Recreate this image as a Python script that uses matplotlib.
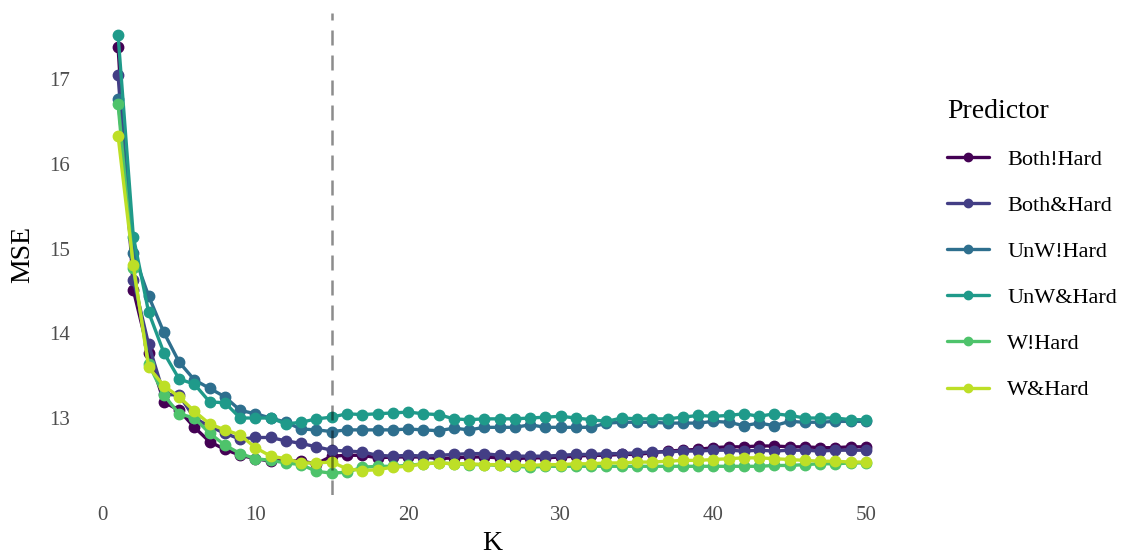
import numpy as np
import matplotlib
matplotlib.use("Agg")
import matplotlib.pyplot as plt

plt.rcParams['font.family'] = ['Liberation Serif', 'DejaVu Serif']

K = list(range(1, 51))
series_names = ["Both!Hard", "Both&Hard", "UnW!Hard", "UnW&Hard", "W!Hard", "W&Hard"]

both_not_hard = [17.38, 14.51, 13.77, 13.19, 13.09, 12.89, 12.72, 12.63, 12.56, 12.52,
                 12.49, 12.50, 12.49, 12.46, 12.55, 12.56, 12.56, 12.53, 12.54, 12.54,
                 12.54, 12.52, 12.53, 12.54, 12.54, 12.53, 12.52, 12.53, 12.53, 12.54,
                 12.55, 12.56, 12.56, 12.57, 12.57, 12.59, 12.61, 12.62, 12.63, 12.65,
                 12.66, 12.66, 12.67, 12.67, 12.66, 12.66, 12.65, 12.65, 12.66, 12.66]
both_and_hard = [17.05, 14.63, 13.87, 13.28, 13.27, 13.00, 12.90, 12.82, 12.75, 12.77,
                 12.77, 12.73, 12.70, 12.66, 12.62, 12.61, 12.60, 12.56, 12.55, 12.56,
                 12.55, 12.56, 12.57, 12.58, 12.58, 12.56, 12.55, 12.55, 12.55, 12.56,
                 12.57, 12.57, 12.58, 12.58, 12.59, 12.60, 12.60, 12.61, 12.61, 12.62,
                 12.62, 12.61, 12.62, 12.61, 12.62, 12.62, 12.61, 12.62, 12.62, 12.62]
unw_not_hard = [16.76, 14.95, 14.44, 14.01, 13.66, 13.45, 13.35, 13.25, 13.09, 13.05,
                13.00, 12.95, 12.87, 12.86, 12.84, 12.86, 12.86, 12.86, 12.86, 12.87,
                12.86, 12.85, 12.88, 12.86, 12.89, 12.89, 12.89, 12.92, 12.89, 12.89,
                12.89, 12.89, 12.94, 12.95, 12.95, 12.95, 12.94, 12.94, 12.94, 12.96,
                12.95, 12.91, 12.94, 12.91, 12.96, 12.95, 12.95, 12.96, 12.96, 12.96]
unw_and_hard = [17.52, 15.14, 14.25, 13.77, 13.46, 13.40, 13.19, 13.18, 13.00, 13.00,
                13.00, 12.93, 12.95, 12.99, 13.01, 13.05, 13.04, 13.05, 13.06, 13.07,
                13.05, 13.04, 12.99, 12.98, 12.99, 12.99, 12.99, 13.00, 13.01, 13.02,
                13.00, 12.98, 12.96, 13.00, 12.99, 12.99, 12.99, 13.01, 13.03, 13.02,
                13.03, 13.05, 13.02, 13.05, 13.03, 13.00, 13.00, 13.00, 12.98, 12.98]
w_not_hard = [16.70, 14.77, 13.64, 13.27, 13.05, 13.00, 12.82, 12.68, 12.58, 12.52,
              12.50, 12.47, 12.45, 12.37, 12.35, 12.36, 12.42, 12.43, 12.43, 12.44,
              12.46, 12.47, 12.46, 12.45, 12.45, 12.44, 12.43, 12.42, 12.43, 12.43,
              12.43, 12.43, 12.43, 12.43, 12.43, 12.43, 12.43, 12.43, 12.43, 12.43,
              12.43, 12.43, 12.43, 12.44, 12.44, 12.45, 12.46, 12.46, 12.47, 12.47]
w_and_hard = [16.33, 14.80, 13.60, 13.38, 13.25, 13.08, 12.93, 12.86, 12.80, 12.65,
              12.55, 12.52, 12.47, 12.47, 12.48, 12.40, 12.38, 12.39, 12.42, 12.43,
              12.46, 12.47, 12.46, 12.46, 12.45, 12.45, 12.44, 12.44, 12.45, 12.45,
              12.46, 12.46, 12.47, 12.47, 12.48, 12.48, 12.49, 12.50, 12.50, 12.51,
              12.52, 12.53, 12.53, 12.52, 12.51, 12.50, 12.49, 12.49, 12.48, 12.48]

series = [both_not_hard, both_and_hard, unw_not_hard, unw_and_hard, w_not_hard, w_and_hard]
chosen_k = 15
x_ticks = [0, 10, 20, 30, 40, 50]
y_ticks = [13, 14, 15, 16, 17]

colors = [plt.cm.viridis(v) for v in np.linspace(0, 0.9, 6)]

fig = plt.figure(figsize=(11.25, 5.54), dpi=100)
ax = fig.add_axes([0.0717, 0.1065, 0.7313, 0.870])

for name, vals, c in zip(series_names, series, colors):
    ax.plot(K, vals, color=c, lw=2.4, marker='o', ms=7.5, label=name,
            solid_capstyle='round')

ax.axvline(chosen_k, color='black', alpha=0.45, lw=1.8, linestyle=(0, (6, 4)), zorder=10)

ax.margins(x=0.05, y=0.05)
ax.set_xticks(x_ticks)
ax.set_yticks(y_ticks)
for s in ax.spines.values():
    s.set_visible(False)
ax.tick_params(length=0, labelsize=15, colors='#4d4d4d', pad=8)
ax.set_xlabel("K", fontsize=20, labelpad=4)
ax.set_ylabel("MSE", fontsize=20, labelpad=10)

leg = ax.legend(loc='upper left', bbox_to_anchor=(0.842, 0.822), bbox_transform=fig.transFigure,
                frameon=False, title="Predictor", fontsize=16, title_fontsize=20,
                labelspacing=1.15, handlelength=1.9, handletextpad=0.8, markerscale=0.8,
                borderpad=0, borderaxespad=0)
leg._legend_box.align = "left"

fig.savefig("out.png", dpi=100)
